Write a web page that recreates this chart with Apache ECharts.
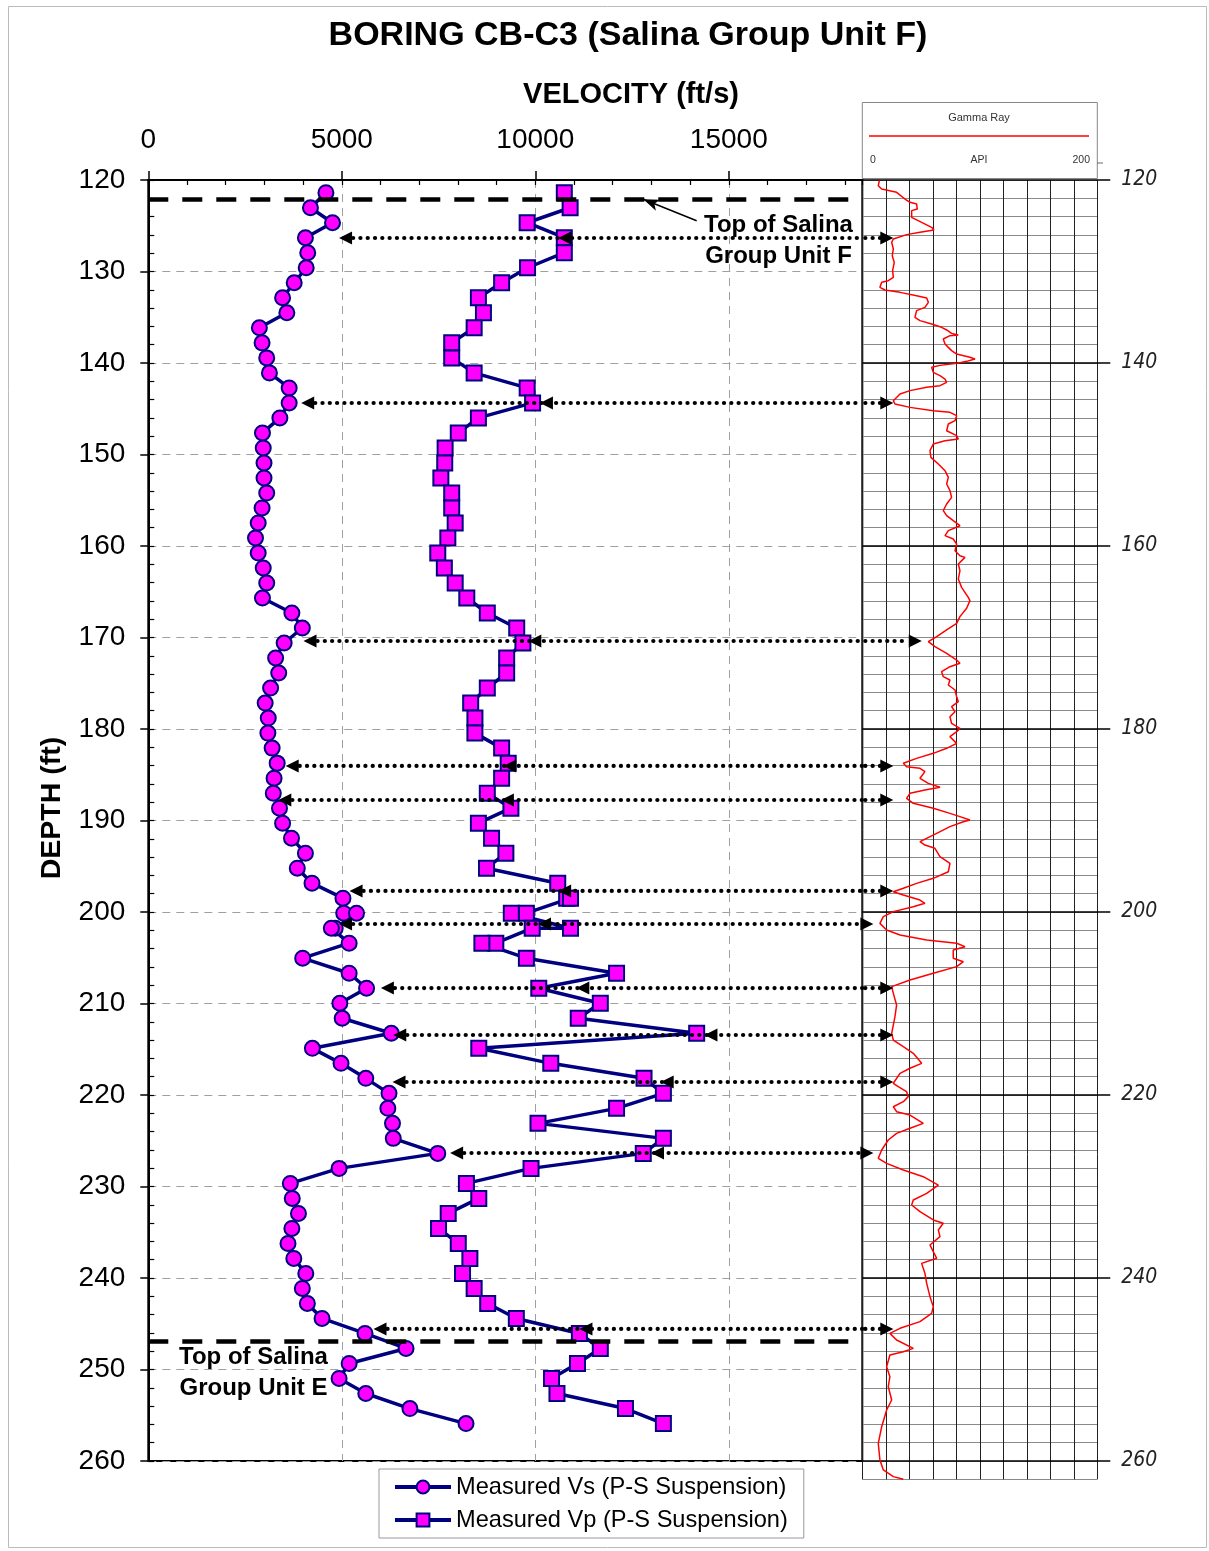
<!DOCTYPE html>
<html><head><meta charset="utf-8">
<script src="https://cdn.jsdelivr.net/npm/echarts@6/dist/echarts.min.js"></script>
<style>html,body{margin:0;padding:0;background:#fff}#c{width:1209px;height:1551px}</style>
</head><body><div id="c"></div>
<script>
// ---------------- DATA ----------------
const velTicks = [0, 5000, 10000, 15000];
const depthTicks = [120, 130, 140, 150, 160, 170, 180, 190, 200, 210, 220, 230, 240, 250, 260];
const gammaDepthLabels = [120, 140, 160, 180, 200, 220, 240, 260];
const gammaApiLabels = ['0', 'API', '200'];

const vsDepth = [121.39,123.03,124.67,126.31,127.95,129.59,131.23,132.87,134.51,136.15,137.80,139.44,141.08,142.72,144.36,146.00,147.64,149.28,150.92,152.56,154.20,155.84,157.48,159.12,160.76,162.40,164.04,165.68,167.32,168.96,170.60,172.24,173.88,175.52,177.17,178.81,180.45,182.09,183.73,185.37,187.01,188.65,190.29,191.93,193.57,195.21,196.85,198.49,200.13,200.13,201.77,201.77,203.41,205.05,206.69,208.33,209.97,211.61,213.25,214.90,216.54,218.18,219.82,221.46,223.10,224.74,226.38,228.02,229.66,231.30,232.94,234.58,236.22,237.86,239.50,241.14,242.78,244.42,246.06,247.70,249.34,250.98,252.62,254.27,255.91];
const vsVel = [4590,4190,4760,4060,4120,4080,3770,3470,3580,2870,2940,3060,3130,3640,3640,3400,2950,2970,2990,2990,3060,2940,2840,2770,2840,2970,3060,2950,3710,3980,3510,3290,3370,3160,3020,3100,3090,3200,3330,3250,3230,3390,3470,3700,4060,3850,4230,5030,5050,5380,4830,4730,5190,3990,5190,5640,4950,5010,6280,4240,4980,5620,6220,6190,6310,6330,7480,4930,3670,3720,3880,3710,3610,3760,4070,3980,4110,4490,5600,6660,5190,4930,5620,6760,8210];

const vpDepth = [121.39,123.03,124.67,126.31,127.95,129.59,131.23,132.87,134.51,136.15,137.80,139.44,141.08,142.72,144.36,146.00,147.64,149.28,150.92,152.56,154.20,155.84,157.48,159.12,160.76,162.40,164.04,165.68,167.32,168.96,170.60,172.24,173.88,175.52,177.17,178.81,180.45,182.09,183.73,185.37,187.01,188.65,190.29,191.93,193.57,195.21,196.85,198.49,198.49,200.13,200.13,201.77,201.77,203.41,203.41,205.05,206.69,208.33,209.97,211.61,213.25,214.90,216.54,218.18,219.82,221.46,223.10,224.74,226.38,228.02,229.66,231.30,232.94,234.58,236.22,237.86,239.50,241.14,242.78,244.42,246.06,247.70,249.34,250.98,252.62,254.27,255.91];
const vpVel = [10750,10900,9790,10750,10750,9800,9130,8530,8660,8420,7840,7840,8420,9790,9930,8530,8010,7670,7660,7560,7840,7840,7930,7740,7480,7650,7930,8230,8760,9520,9680,9260,9260,8760,8330,8440,8440,9130,9300,9130,8760,9370,8530,8870,9240,8740,10580,10810,10910,9770,9380,10910,9920,8980,8620,9770,12100,10090,11680,11110,14170,8540,10400,12810,13310,12100,10070,13310,12790,9890,8220,8540,7750,7500,8010,8310,8120,8420,8770,9510,11140,11680,11090,10420,10560,12330,13310];

const grDepth = [120.07,120.62,120.98,121.35,122.08,122.44,122.62,123.17,123.35,124.08,124.63,125.17,125.46,125.72,125.97,126.45,126.81,127.54,128.27,129.00,129.91,130.64,131.00,131.18,131.73,132.02,132.28,132.64,132.90,133.37,133.92,134.28,135.01,135.37,135.74,136.10,136.39,136.76,136.94,137.01,137.38,137.92,138.29,138.65,139.02,139.38,139.56,139.82,140.04,140.26,140.47,141.02,141.38,141.75,142.11,142.48,142.66,143.02,143.39,144.12,144.48,144.85,145.21,145.39,145.76,146.30,146.67,147.40,147.94,148.31,148.49,148.85,149.58,150.31,151.04,151.77,152.50,153.22,153.95,154.68,155.41,156.14,156.68,157.23,157.78,158.32,158.87,159.24,159.78,160.51,161.06,161.24,161.97,162.70,163.61,164.52,165.61,165.97,166.81,167.72,168.45,169.18,169.91,170.46,171.00,171.73,172.46,172.82,173.19,173.74,174.28,174.64,175.19,175.74,176.47,177.01,177.56,178.11,178.66,179.38,179.93,180.29,180.84,181.57,182.11,182.66,183.21,183.75,184.12,184.30,184.66,185.39,185.94,186.37,186.67,187.03,187.58,188.12,188.67,189.22,189.58,189.95,190.13,190.67,191.40,192.31,192.68,193.04,193.95,194.68,195.60,196.32,196.87,197.41,197.78,198.14,198.69,199.05,199.42,199.96,200.51,201.24,201.97,202.51,203.06,203.42,203.79,204.15,205.06,205.43,205.97,206.70,207.43,208.16,208.89,210.16,211.44,213.26,213.99,214.72,215.44,216.54,217.08,217.63,218.72,219.09,219.64,220.18,220.73,221.28,221.82,222.19,223.10,223.64,224.19,224.92,226.01,226.92,227.47,228.20,228.93,229.84,230.75,231.48,232.02,232.75,233.66,234.02,234.75,235.48,236.39,237.12,237.85,238.40,239.49,240.58,242.04,243.13,243.86,244.77,245.50,246.05,246.78,247.69,248.06,248.42,249.70,250.79,251.88,253.33,254.43,256.25,258.07,259.89,260.98,261.71,262.00];
const grApi = [14.5,13.6,16.5,29.2,36.3,40.6,46.2,46.8,42.0,42.0,50.5,59.0,61.0,49.1,37.7,26.4,25.0,26.4,25.5,27.2,25.8,26.4,22.1,16.5,15.0,19.3,32.1,46.2,54.8,56.2,53.3,46.2,44.8,49.1,59.0,67.5,71.8,76.0,81.7,74.6,68.9,70.4,73.2,76.0,80.3,91.6,95.9,88.8,80.3,66.1,59.0,60.4,66.1,70.4,71.8,66.1,54.8,40.6,32.1,26.4,27.8,40.6,60.4,74.6,80.3,78.9,73.2,71.8,80.3,81.7,70.4,60.4,57.6,58.4,64.7,70.4,73.2,71.8,74.6,76.0,71.8,68.9,71.8,77.4,83.1,73.2,70.4,77.4,80.3,78.9,83.1,87.4,81.7,83.1,81.7,84.5,90.2,91.6,88.8,83.1,80.3,71.8,63.3,56.2,61.8,71.8,80.3,83.1,74.6,67.5,68.9,74.6,73.2,78.9,80.3,81.7,76.0,78.9,74.6,76.0,83.1,80.3,74.6,80.3,71.8,60.4,46.2,34.9,37.7,49.1,53.3,49.1,56.2,66.1,53.3,40.6,37.7,43.4,60.4,74.6,83.1,91.6,86.0,74.6,63.3,49.1,53.3,61.8,66.1,74.6,73.2,60.4,46.2,34.9,26.4,34.9,49.1,53.3,43.4,26.4,17.9,15.0,20.7,32.1,54.8,80.3,87.4,77.4,77.4,86.0,80.3,60.4,40.6,25.0,26.4,29.2,27.8,25.0,26.4,34.9,43.4,50.5,40.6,32.1,26.4,30.6,37.7,39.1,34.9,26.4,29.2,40.6,51.9,40.6,29.2,22.1,16.5,13.6,20.7,34.9,51.9,64.7,54.8,43.4,42.0,49.1,60.4,68.9,64.7,66.1,57.6,60.4,63.3,50.5,53.3,54.8,57.6,60.4,59.0,49.1,32.1,23.5,29.2,43.4,34.9,23.5,20.7,23.5,22.1,25.0,20.7,16.5,13.6,15.0,17.9,26.4,34.9];

// correlation arrows: depth, Vs tip, Vp tip (ft/s), gamma tip (API)
const arrowDepth = [126.34,144.37,170.38,184.04,187.76,197.70,201.31,208.31,213.44,218.58,226.34,245.57];
const arrowVs    = [4930,3950,4010,3550,3360,5200,4930,6010,6330,6310,7800,5820];
const arrowVp    = [10590,10120,9820,9170,9110,10590,10070,11060,14370,13240,12990,11140];
const arrowGr    = [26.4,26.4,50.6,26.4,26.4,26.4,9.4,26.4,26.4,26.4,9.4,26.4];

const unitTopDepth = [122.11, 246.89];        // Top of Unit F, Top of Unit E
const pointerF = [[14170, 124.45], [12790, 122.11]];

// ---------------- STYLE ----------------
const FONT = '"Liberation Sans", Arial, Helvetica, sans-serif';
const NARROW = '"Liberation Sans Narrow", "DejaVu Sans Condensed", "Liberation Sans", sans-serif';
const NAVY = '#000080', MAG = '#ff00ff';
const VEL_MAX = 18450;
const vsName = 'Measured Vs (P-S Suspension)';
const vpName = 'Measured Vp (P-S Suspension)';

function triLeft(p){ return {type:'polygon', shape:{points:[[p[0],p[1]],[p[0]+13,p[1]-6.5],[p[0]+13,p[1]+6.5]]}, style:{fill:'#000'}}; }
function triRight(p){ return {type:'polygon', shape:{points:[[p[0],p[1]],[p[0]-13,p[1]-6.5],[p[0]-13,p[1]+6.5]]}, style:{fill:'#000'}}; }
const dotStyle = {stroke:'#000', lineWidth:4.2, lineDash:[0.1,7.2], lineCap:'round'};

const chart = echarts.init(document.getElementById('c'), null, {renderer:'canvas'});
const option = {
  animation: false,
  backgroundColor: '#fff',
  textStyle: {fontFamily: FONT},
  grid: [
    {left:148.3, top:180, width:714, height:1281, show:true, borderColor:'#000', borderWidth:2, backgroundColor:'transparent', containLabel:false, outerBoundsMode:'none'},
    {left:862.3, top:180, width:235, height:1299.3, show:false, containLabel:false, outerBoundsMode:'none'}
  ],
  xAxis: [
    {type:'value', gridIndex:0, position:'top', min:velTicks[0], max:VEL_MAX, interval:velTicks[1]-velTicks[0],
     axisLine:{show:true, lineStyle:{color:'#000', width:2}},
     axisTick:{show:true, inside:false, length:9, lineStyle:{color:'#000', width:1.5}},
     axisLabel:{show:true, fontSize:28, fontFamily:FONT, color:'#000', margin:26, showMaxLabel:false, formatter:function(v){return String(v);}},
     splitLine:{show:true, lineStyle:{color:'#a0a0a0', width:1, type:[8,6]}}},
    {type:'value', gridIndex:0, position:'top', min:velTicks[0], max:VEL_MAX, interval:1000,
     axisLine:{show:false}, axisTick:{show:true, inside:true, length:5, lineStyle:{color:'#000', width:1.2}},
     axisLabel:{show:false}, splitLine:{show:false}},
    {type:'value', gridIndex:1, position:'top', min:0, max:200, interval:20,
     axisLine:{show:false}, axisTick:{show:false}, axisLabel:{show:false},
     splitLine:{show:true, lineStyle:{color:'#222', width:1}}}
  ],
  yAxis: [
    {type:'value', gridIndex:0, position:'left', inverse:true, min:depthTicks[0], max:depthTicks[depthTicks.length-1], interval:depthTicks[1]-depthTicks[0],
     axisLine:{show:true, lineStyle:{color:'#000', width:2}},
     axisTick:{show:true, inside:false, length:8, lineStyle:{color:'#000', width:1.5}},
     axisLabel:{show:true, fontSize:28, fontFamily:FONT, color:'#000', margin:23, formatter:function(v){return String(v);}},
     splitLine:{show:true, lineStyle:{color:'#a0a0a0', width:1, type:[8,6]}}},
    {type:'value', gridIndex:0, position:'left', inverse:true, min:120, max:260, interval:2,
     axisLine:{show:false}, axisTick:{show:true, inside:true, length:6, lineStyle:{color:'#000', width:1.2}},
     axisLabel:{show:false}, splitLine:{show:false}},
    {type:'value', gridIndex:0, position:'right', inverse:true, min:gammaDepthLabels[0], max:gammaDepthLabels[gammaDepthLabels.length-1], interval:gammaDepthLabels[1]-gammaDepthLabels[0], z:1,
     axisLine:{show:false}, axisTick:{show:true, inside:false, length:248, lineStyle:{color:'#000', width:1.5}},
     axisLabel:{show:true, margin:259, fontSize:21, fontStyle:'italic', fontFamily:NARROW, color:'#222', padding:[8,0,0,0]},
     splitLine:{show:false}},
    {type:'value', gridIndex:1, inverse:true, min:120, max:262, interval:2,
     axisLine:{show:false}, axisTick:{show:false}, axisLabel:{show:false},
     splitLine:{show:true, lineStyle:{color:'#8a8a8a', width:1.2}}}
  ],
  legend: {
    data:[vsName, vpName], orient:'vertical', left:379, top:1469,
    padding:[6,16,6,14], itemGap:9, itemWidth:56, itemHeight:16,
    borderColor:'#999', borderWidth:1, backgroundColor:'#fff', borderRadius:0,
    selectedMode:false,
    lineStyle:{width:4, color:NAVY},
    textStyle:{fontFamily:FONT, fontSize:23.6, color:'#000'}
  },
  series: [
    {name:'Gamma Ray', type:'line', xAxisIndex:2, yAxisIndex:3, z:2,
     data: grDepth.map((d,i)=>[grApi[i], d]), showSymbol:false, symbol:'none',
     lineStyle:{color:'#ff0000', width:1.5}, silent:true},
    {name:vsName, type:'line', xAxisIndex:0, yAxisIndex:0, z:3,
     data: vsDepth.map((d,i)=>[vsVel[i], d]),
     symbol:'circle', symbolSize:15, showSymbol:true,
     lineStyle:{color:NAVY, width:3.5}, itemStyle:{color:MAG, borderColor:NAVY, borderWidth:2},
     emphasis:{disabled:true},
     markLine:{silent:true, animation:false, symbol:['none','none'], label:{show:false}, emphasis:{disabled:true},
       lineStyle:{color:'#000', width:4.5, type:[20,14]},
       data: unitTopDepth.map(d=>({yAxis:d}))}},
    {name:vpName, type:'line', xAxisIndex:0, yAxisIndex:0, z:3,
     data: vpDepth.map((d,i)=>[vpVel[i], d]),
     symbol:'rect', symbolSize:15, showSymbol:true,
     lineStyle:{color:NAVY, width:3.5}, itemStyle:{color:MAG, borderColor:NAVY, borderWidth:2},
     emphasis:{disabled:true},
     markLine:{silent:true, animation:false, symbol:['none','arrow'], symbolSize:[9,16], label:{show:false}, emphasis:{disabled:true},
       lineStyle:{color:'#000', width:1.5, type:'solid'},
       data:[[{coord:pointerF[0]},{coord:pointerF[1]}]]}},
    {type:'custom', xAxisIndex:0, yAxisIndex:0, z:5, silent:true,
     data: arrowDepth.map((d,i)=>[arrowVs[i], d, arrowVp[i]]),
     encode:{x:[0,2], y:1},
     renderItem:function(params, api){
       const d = api.value(1);
       const pS = api.coord([api.value(0), d]);
       const pP = api.coord([api.value(2), d]);
       const pE = api.coord([VEL_MAX, d]);
       return {type:'group', children:[
         {type:'line', shape:{x1:pS[0]+14, y1:pS[1], x2:pE[0], y2:pE[1]}, style:dotStyle},
         triLeft(pS), triLeft(pP)]};
     }},
    {type:'custom', xAxisIndex:2, yAxisIndex:3, z:5, silent:true,
     data: arrowDepth.map((d,i)=>[arrowGr[i], d]),
     encode:{x:0, y:1},
     renderItem:function(params, api){
       const d = api.value(1);
       const p0 = api.coord([0, d]);
       const pT = api.coord([api.value(0), d]);
       return {type:'group', children:[
         {type:'line', shape:{x1:p0[0]+3, y1:p0[1], x2:pT[0]-13, y2:pT[1]}, style:dotStyle},
         triRight(pT)]};
     }}
  ],
  graphic: [
    {type:'rect', z:0, silent:true, shape:{x:8.5, y:6.5, width:1198, height:1541}, style:{fill:'none', stroke:'#bbb', lineWidth:1}},
    {type:'text', z:10, x:628, y:36, style:{text:'BORING CB-C3 (Salina Group Unit F)', font:'bold 34px '+FONT, fill:'#000', align:'center', verticalAlign:'middle'}},
    {type:'text', z:10, x:631, y:95, style:{text:'VELOCITY (ft/s)', font:'bold 29px '+FONT, fill:'#000', align:'center', verticalAlign:'middle'}},
    {type:'text', z:10, x:52, y:808, rotation:Math.PI/2, style:{text:'DEPTH (ft)', font:'bold 28.5px '+FONT, fill:'#000', align:'center', verticalAlign:'middle'}},
    {type:'text', z:10, x:778.5, y:225, style:{text:'Top of Salina', font:'bold 24px '+FONT, fill:'#000', align:'center', verticalAlign:'middle'}},
    {type:'text', z:10, x:778.5, y:256, style:{text:'Group Unit F', font:'bold 24px '+FONT, fill:'#000', align:'center', verticalAlign:'middle'}},
    {type:'text', z:10, x:253.5, y:1357, style:{text:'Top of Salina', font:'bold 24px '+FONT, fill:'#000', align:'center', verticalAlign:'middle'}},
    {type:'text', z:10, x:253.5, y:1388, style:{text:'Group Unit E', font:'bold 24px '+FONT, fill:'#000', align:'center', verticalAlign:'middle'}},
    // gamma header
    {type:'rect', z:10, silent:true, shape:{x:862.3, y:102.5, width:235, height:76}, style:{fill:'#fff', stroke:'#888', lineWidth:1}},
    {type:'text', z:11, x:979, y:118, style:{text:'Gamma Ray', font:'11px '+FONT, fill:'#333', align:'center', verticalAlign:'middle'}},
    {type:'line', z:11, silent:true, shape:{x1:869, y1:136, x2:1089, y2:136}, style:{stroke:'#ff0000', lineWidth:1.5}},
    {type:'text', z:11, x:870, y:160, style:{text:gammaApiLabels[0], font:'10.5px '+FONT, fill:'#333', align:'left', verticalAlign:'middle'}},
    {type:'text', z:11, x:979, y:160, style:{text:gammaApiLabels[1], font:'10.5px '+FONT, fill:'#333', align:'center', verticalAlign:'middle'}},
    {type:'text', z:11, x:1090, y:160, style:{text:gammaApiLabels[2], font:'10.5px '+FONT, fill:'#333', align:'right', verticalAlign:'middle'}},
    {type:'line', z:11, silent:true, shape:{x1:1097, y1:163, x2:1103, y2:163}, style:{stroke:'#666', lineWidth:1}}
  ]
};
chart.setOption(option);
</script>
</body></html>
